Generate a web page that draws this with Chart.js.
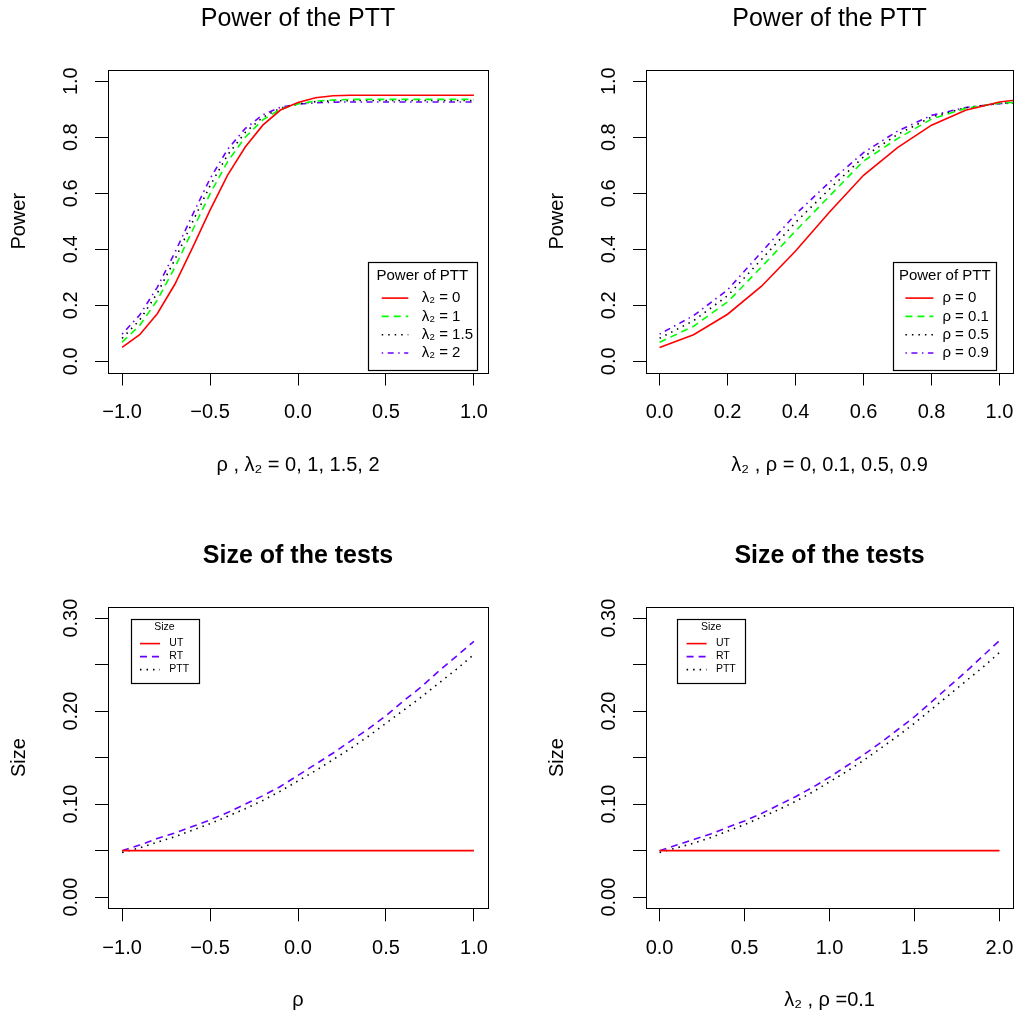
<!DOCTYPE html>
<html><head><meta charset="utf-8">
<script src="https://cdn.jsdelivr.net/npm/chart.js@4.4.1/dist/chart.umd.min.js"></script>
<style>
html,body{margin:0;padding:0;background:#fff;}
#wrap{position:relative;width:1029px;height:1017px;background:#fff;overflow:hidden;}
#wrap canvas{position:absolute;left:0;top:0;}
</style></head><body>
<div id="wrap">
<canvas id="c1" width="1029" height="1017"></canvas>
<canvas id="c2" width="1029" height="1017"></canvas>
<canvas id="c3" width="1029" height="1017"></canvas>
<canvas id="c4" width="1029" height="1017"></canvas>
</div>
<script>
// ---------------- DATA ----------------
// Panel 1: power vs rho
const rhoGrid = [-1.0,-0.9,-0.8,-0.7,-0.6,-0.5,-0.4,-0.3,-0.2,-0.1,0.0,0.1,0.2,0.3,0.4,0.5,0.6,0.7,0.8,0.9,1.0];
const powLam0  = [0.050,0.095,0.170,0.275,0.405,0.540,0.665,0.765,0.843,0.897,0.924,0.941,0.948,0.950,0.950,0.950,0.950,0.950,0.950,0.950,0.950];
const powLam1  = [0.068,0.128,0.218,0.335,0.467,0.598,0.713,0.800,0.862,0.900,0.919,0.929,0.933,0.935,0.935,0.935,0.935,0.935,0.935,0.935,0.935];
const powLam15 = [0.082,0.147,0.243,0.363,0.497,0.627,0.737,0.817,0.871,0.904,0.919,0.927,0.930,0.931,0.931,0.931,0.931,0.931,0.931,0.931,0.931];
const powLam2  = [0.097,0.165,0.264,0.388,0.522,0.652,0.757,0.831,0.880,0.907,0.918,0.923,0.925,0.926,0.926,0.926,0.926,0.926,0.926,0.926,0.926];
const xTicksRho = [-1.0,-0.5,0.0,0.5,1.0];
const yTicksPow = [0.0,0.2,0.4,0.6,0.8,1.0];

// Panel 2: power vs lambda2
const lamGrid   = [0.0,0.1,0.2,0.3,0.4,0.5,0.6,0.7,0.8,0.9,1.0,1.1];
const powRho0   = [0.049,0.095,0.168,0.268,0.394,0.533,0.664,0.763,0.843,0.896,0.926,0.940];
const powRho01  = [0.068,0.125,0.212,0.337,0.465,0.590,0.715,0.795,0.865,0.903,0.922,0.928];
const powRho05  = [0.082,0.145,0.234,0.364,0.496,0.615,0.730,0.810,0.872,0.905,0.921,0.926];
const powRho09  = [0.097,0.163,0.255,0.390,0.525,0.640,0.745,0.822,0.878,0.906,0.920,0.924];
const xTicksLam1 = [0.0,0.2,0.4,0.6,0.8,1.0];

// Panel 3: size vs rho
const sizeUT_r  = [0.05,0.05,0.05,0.05,0.05,0.05,0.05,0.05,0.05,0.05,0.05,0.05,0.05,0.05,0.05,0.05,0.05,0.05,0.05,0.05,0.05];
const sizeRT_r  = [0.050,0.056,0.063,0.069,0.076,0.083,0.091,0.100,0.109,0.119,0.131,0.143,0.155,0.168,0.181,0.195,0.211,0.226,0.243,0.259,0.275];
const sizePTT_r = [0.048,0.053,0.059,0.065,0.072,0.079,0.087,0.095,0.104,0.114,0.125,0.136,0.148,0.160,0.173,0.187,0.201,0.215,0.230,0.245,0.261];

// Panel 4: size vs lambda2 (rho = 0.1)
const lamGrid2  = [0.0,0.1,0.2,0.3,0.4,0.5,0.6,0.7,0.8,0.9,1.0,1.1,1.2,1.3,1.4,1.5,1.6,1.7,1.8,1.9,2.0];
const sizeUT_l  = [0.05,0.05,0.05,0.05,0.05,0.05,0.05,0.05,0.05,0.05,0.05,0.05,0.05,0.05,0.05,0.05,0.05,0.05,0.05,0.05,0.05];
const sizeRT_l  = [0.050,0.056,0.062,0.068,0.075,0.082,0.090,0.099,0.108,0.118,0.129,0.141,0.153,0.166,0.180,0.194,0.210,0.226,0.242,0.259,0.276];
const sizePTT_l = [0.048,0.053,0.058,0.064,0.071,0.078,0.086,0.094,0.103,0.113,0.124,0.135,0.147,0.160,0.173,0.187,0.202,0.217,0.232,0.247,0.263];
const xTicksLam2 = [0.0,0.5,1.0,1.5,2.0];
const yTicksSize = [0.00,0.05,0.10,0.15,0.20,0.25,0.30];

// ---------------- STYLE ----------------
const FONT = '"Liberation Sans", Arial, Helvetica, sans-serif';
const RED = '#FF0000', GREEN = '#00FF00', BLACK = '#000000', PURPLE = '#6A00FF';
const LW = 1.6;
const DASH = [7,5], DOT = [1.5,5], DOTDASH = [1.5,4.5,6,4.5];
const W = 1029, H = 1017;
const AX = 20; // axis text size

function fmt(d){ return v => (v < -1e-9 ? '\u2212' : '') + Math.abs(v).toFixed(d); }

const rStyle = {
  id: 'rStyle',
  afterDraw(chart, args, o) {
    const ctx = chart.ctx, a = chart.chartArea;
    ctx.save();
    // plot box
    ctx.strokeStyle = '#000'; ctx.lineWidth = 1; ctx.setLineDash([]);
    ctx.strokeRect(Math.round(a.left)+0.5, Math.round(a.top)+0.5, Math.round(a.right)-Math.round(a.left), Math.round(a.bottom)-Math.round(a.top));
    // rotated y tick labels (R style, parallel to the axis)
    const ys = chart.scales.y;
    ctx.font = o.tickSize + 'px ' + FONT;
    ctx.fillStyle = '#000'; ctx.textAlign = 'center'; ctx.textBaseline = 'alphabetic';
    ys.ticks.forEach(t => {
      if (!t.label) return;
      const py = ys.getPixelForValue(t.value);
      ctx.save(); ctx.translate(a.left - o.yLabelOffset, py); ctx.rotate(-Math.PI/2);
      ctx.fillText(t.label, 0, 0); ctx.restore();
    });
    // legend box
    const L = o.legend;
    let bx, by;
    if (L.corner === 'br') { bx = a.right - L.inX - L.w; by = a.bottom - L.inY - L.h; }
    else { bx = a.left + L.inX; by = a.top + L.inY; }
    ctx.fillStyle = '#fff'; ctx.fillRect(bx, by, L.w, L.h);
    ctx.strokeStyle = '#000'; ctx.lineWidth = 1.2;
    ctx.strokeRect(Math.round(bx)+0.5, Math.round(by)+0.5, Math.round(L.w), Math.round(L.h));
    ctx.fillStyle = '#000'; ctx.font = L.size + 'px ' + FONT;
    ctx.textAlign = 'center'; ctx.textBaseline = 'middle';
    ctx.fillText(L.title, bx + L.w/2, by + L.titleDy);
    ctx.textAlign = 'left';
    chart.data.datasets.forEach((ds, i) => {
      const yy = by + L.row0 + i*L.step;
      ctx.strokeStyle = ds.borderColor; ctx.lineWidth = ds.borderWidth;
      ctx.setLineDash(ds.borderDash || []);
      ctx.beginPath(); ctx.moveTo(bx + L.x0, yy); ctx.lineTo(bx + L.x1, yy); ctx.stroke();
      ctx.setLineDash([]);
      ctx.fillStyle = '#000';
      ctx.fillText(ds.label, bx + L.tx, yy);
    });
    ctx.restore();
  }
};

function makeChart(id, c) {
  const datasets = c.series.map(s => ({
    label: s.label,
    data: c.xs.map((x, i) => ({x: x, y: s.values[i]})),
    borderColor: s.color, borderDash: s.dash, borderWidth: LW,
    pointRadius: 0, fill: false, tension: 0
  }));
  const axisFont = {family: FONT, size: AX};
  return new Chart(document.getElementById(id), {
    type: 'line',
    data: {datasets},
    options: {
      responsive: false, animation: false, devicePixelRatio: 1,
      events: [],
      layout: {padding: {left: c.L - 108, right: W - c.R, top: c.T - 70, bottom: H - c.B - 104.6}},
      plugins: {
        legend: {display: false}, tooltip: {enabled: false},
        title: {display: true, text: c.title, fullSize: false, color: '#000',
                font: {family: FONT, size: 25, weight: c.bold ? 'bold' : 'normal'},
                padding: {top: 3.7, bottom: 36.3}},
        rStyle: {tickSize: AX, yLabelOffset: 31.3, legend: c.legend}
      },
      scales: {
        x: {
          type: 'linear', min: c.xmin, max: c.xmax,
          afterBuildTicks: s => { s.ticks = c.xTicks.map(v => ({value: v})); },
          afterFit: s => { s.height = 104.6; },
          grid: {display: true, drawOnChartArea: false, drawTicks: true, tickLength: 13, tickColor: '#000', tickWidth: 1},
          border: {display: false},
          ticks: {color: '#000', font: axisFont, padding: 15, autoSkip: false, maxRotation: 0, minRotation: 0, callback: fmt(1)},
          title: {display: true, text: c.xlab, color: '#000', font: axisFont, padding: 0}
        },
        y: {
          type: 'linear', min: c.ymin, max: c.ymax,
          afterBuildTicks: s => { s.ticks = c.yTicks.map(v => ({value: v})); },
          afterFit: s => { s.width = 108; },
          grid: {display: true, drawOnChartArea: false, drawTicks: true, tickLength: 13, tickColor: '#000', tickWidth: 1},
          border: {display: false},
          ticks: {display: false, callback: c.yFmt},
          title: {display: true, text: c.ylab, color: '#000', font: axisFont, padding: {top: 7.8, bottom: 0}}
        }
      }
    },
    plugins: [rStyle]
  });
}

const bigLegend = (title, inX, w, x0, x1, tx) => ({corner: 'br', inX, inY: 2.7, w, h: 108.3, title, size: 15, titleDy: 14.3, row0: 36.6, step: 18.3, x0, x1, tx});
const smallLegend = (inX) => ({corner: 'tl', inX, inY: 11.6, w: 67.6, h: 64, title: 'Size', size: 10.5, titleDy: 9, row0: 25, step: 13, x0: 9.3, x1: 29.3, tx: 38.6});

makeChart('c1', {
  L: 108, R: 488, T: 70, B: 372.5, xmin: -1.08, xmax: 1.08, ymin: -0.04, ymax: 1.04,
  xs: rhoGrid, xTicks: xTicksRho, yTicks: yTicksPow, yFmt: fmt(1),
  title: 'Power of the PTT', bold: false, xlab: 'ρ , λ₂ = 0, 1, 1.5, 2', ylab: 'Power',
  series: [
    {label: 'λ₂ = 0',   values: powLam0,  color: RED,    dash: []},
    {label: 'λ₂ = 1',   values: powLam1,  color: GREEN,  dash: DASH},
    {label: 'λ₂ = 1.5', values: powLam15, color: BLACK,  dash: DOT},
    {label: 'λ₂ = 2',   values: powLam2,  color: PURPLE, dash: DOTDASH}
  ],
  legend: bigLegend('Power of PTT', 11.3, 108.7, 13.7, 40.3, 53.7)
});

makeChart('c2', {
  L: 646, R: 1026, T: 70, B: 372.5, xmin: -0.04, xmax: 1.04, ymin: -0.04, ymax: 1.04,
  xs: lamGrid, xTicks: xTicksLam1, yTicks: yTicksPow, yFmt: fmt(1),
  title: 'Power of the PTT', bold: false, xlab: 'λ₂ , ρ = 0, 0.1, 0.5, 0.9', ylab: 'Power',
  series: [
    {label: 'ρ = 0',   values: powRho0,  color: RED,    dash: []},
    {label: 'ρ = 0.1', values: powRho01, color: GREEN,  dash: DASH},
    {label: 'ρ = 0.5', values: powRho05, color: BLACK,  dash: DOT},
    {label: 'ρ = 0.9', values: powRho09, color: PURPLE, dash: DOTDASH}
  ],
  legend: bigLegend('Power of PTT', 16.7, 103.3, 12.3, 40.3, 49.3)
});

const sizeFmt = v => (Math.round(v*100) % 10 === 0) ? v.toFixed(2) : '';

makeChart('c3', {
  L: 108, R: 488, T: 607, B: 908.3, xmin: -1.08, xmax: 1.08, ymin: -0.012, ymax: 0.312,
  xs: rhoGrid, xTicks: xTicksRho, yTicks: yTicksSize, yFmt: sizeFmt,
  title: 'Size of the tests', bold: true, xlab: 'ρ', ylab: 'Size',
  series: [
    {label: 'UT',  values: sizeUT_r,  color: RED,    dash: []},
    {label: 'RT',  values: sizeRT_r,  color: PURPLE, dash: DASH},
    {label: 'PTT', values: sizePTT_r, color: BLACK,  dash: DOT}
  ],
  legend: smallLegend(22.7)
});

makeChart('c4', {
  L: 646, R: 1026, T: 607, B: 908.3, xmin: -0.08, xmax: 2.08, ymin: -0.012, ymax: 0.312,
  xs: lamGrid2, xTicks: xTicksLam2, yTicks: yTicksSize, yFmt: sizeFmt,
  title: 'Size of the tests', bold: true, xlab: 'λ₂ , ρ =0.1', ylab: 'Size',
  series: [
    {label: 'UT',  values: sizeUT_l,  color: RED,    dash: []},
    {label: 'RT',  values: sizeRT_l,  color: PURPLE, dash: DASH},
    {label: 'PTT', values: sizePTT_l, color: BLACK,  dash: DOT}
  ],
  legend: smallLegend(31.3)
});
</script>
</body></html>
